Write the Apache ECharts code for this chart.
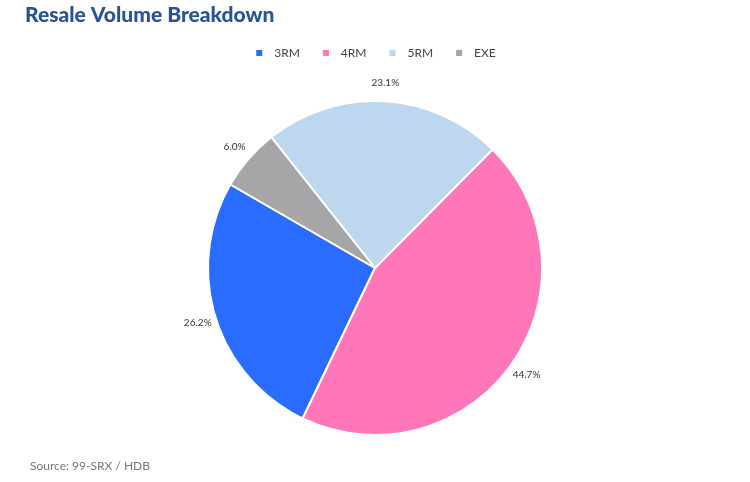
<!DOCTYPE html>
<html lang="en">

<head>
  <meta charset="UTF-8">
  <title>Resale Volume Breakdown</title>
  <script src="https://cdn.jsdelivr.net/npm/echarts@6/dist/echarts.min.js"></script>
</head>

<body style="margin: 0; background: #fff;">
  <div id="chart" style="width: 750px;height: 482px;"></div>
  <script>
    // data
    const categories = ['3RM', '4RM', '5RM', 'EXE']
    const shares = [26.2, 44.7, 23.1, 6.0]
    const colors = ['#2a6cff', '#ff77b9', '#bdd7ee', '#a6a6a8']

    const myChart = echarts.init(document.getElementById('chart'))

    const pieData = categories.map((name, i) => ({ name, value: shares[i] }))

    const option = {
      color: colors,
      title: [
        {
          text: 'Resale Volume Breakdown',
          left: 20,
          top: 0,
          textStyle: { fontFamily: 'Lato', fontWeight: 900, fontSize: 21, color: '#27529c' }
        },
        {
          text: 'Source: 99-SRX / HDB',
          left: 25,
          top: 455,
          textStyle: { fontFamily: 'Lato', fontWeight: 'normal', fontSize: 12, color: '#777' }
        }
      ],
      legend: {
        top: 42,
        left: 'center',
        itemWidth: 8,
        itemHeight: 8,
        itemGap: 21,
        icon: 'rect',
        textStyle: { fontFamily: 'Lato', fontSize: 12, color: '#444', padding: [0, 0, 0, 6] }
      },
      series: [
        {
          type: 'pie',
          center: [375, 268],
          radius: 167,
          startAngle: 150,
          clockwise: false,
          label: { show: false },
          labelLine: { show: false },
          itemStyle: { borderColor: '#fff', borderWidth: 2 },
          emphasis: { disabled: true },
          data: pieData
        },
        // transparent ring, only to place the % labels centred just outside the pie
        {
          type: 'pie',
          center: [375, 268],
          radius: [167, 198],
          startAngle: 150,
          clockwise: false,
          silent: true,
          itemStyle: { color: 'rgba(0,0,0,0)' },
          label: {
            show: true,
            position: 'inside',
            fontFamily: 'Lato',
            fontSize: 10,
            color: '#333',
            formatter: p => p.value.toFixed(1) + '%'
          },
          labelLine: { show: false },
          emphasis: { disabled: true },
          data: pieData
        }
      ]
    }

    myChart.setOption(option)
  </script>
</body>

</html>
